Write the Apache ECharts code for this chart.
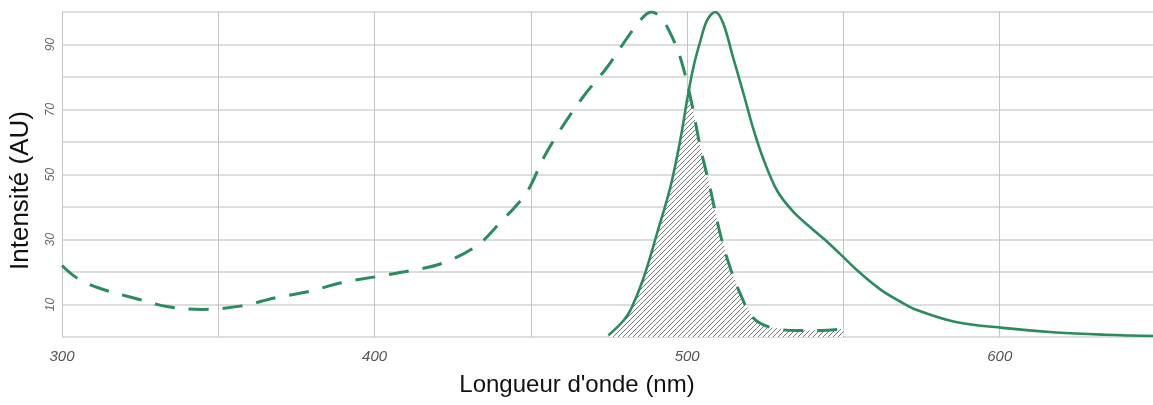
<!DOCTYPE html>
<html><head><meta charset="utf-8">
<script src="https://cdn.jsdelivr.net/npm/echarts@6/dist/echarts.min.js"></script>
<style>html,body{margin:0;padding:0;background:#fff;overflow:hidden;width:1153px;height:405px}#c{width:1160px;height:405px}</style>
</head><body><div id="c"></div>
<script>
// Excitation spectrum (dashed) : [wavelength nm, intensity AU]
const excitation = [[300,22],[305,18],[312,15],[323,12],[334,9.3],[345,8.5],[357,9.5],[368,12],[379,14],[389,16.6],[400,18.5],[411,20.3],[422,22.8],[433,28.3],[440,35],[447.6,43],[450.5,47.7],[454,55],[459.4,63.7],[466.8,74],[474.4,83],[480.8,92],[485,97.5],[488.5,100],[491.4,98.5],[494.6,93.5],[497.8,86],[501,74],[504.2,58.5],[507.3,46],[510.5,32],[513.7,21.5],[516.9,13.5],[521,6],[526.5,3],[535,2],[542,2],[550,2.5]];
// Emission spectrum (solid)
const emission = [[474.8,0.5],[479.6,5],[482,8.5],[486,18],[490.4,32],[494.6,46],[497.8,60.6],[500,73],[502,83],[504.2,91],[506.4,97.5],[509,100],[511.5,96.6],[514.7,86],[518,75],[521,64.6],[524.3,55],[528.8,45],[534,38.5],[540.3,33],[544,30],[549,25.5],[555,20],[562,14.5],[568,11],[573.5,8.3],[586,4.6],[601,2.8],[618,1.4],[634,0.7],[650,0.3]];
const xLabels = [300,400,500,600];
const yLabels = [10,30,50,70,90];

function interp(arr, x){
  if (x < arr[0][0] || x > arr[arr.length-1][0]) return null;
  for (let i=0;i<arr.length-1;i++){
    const a=arr[i], b=arr[i+1];
    if (x>=a[0] && x<=b[0]) return a[1] + (b[1]-a[1])*(x-a[0])/(b[0]-a[0]);
  }
  return arr[arr.length-1][1];
}
// overlap region = min of both spectra where both exist
const lo = Math.max(excitation[0][0], emission[0][0]);
const hi = Math.min(excitation[excitation.length-1][0], emission[emission.length-1][0]);
const xs = Array.from(new Set(excitation.map(p=>p[0]).concat(emission.map(p=>p[0])).filter(x=>x>=lo&&x<=hi))).sort((a,b)=>a-b);
const overlap = xs.map(x=>[x, Math.min(interp(excitation,x), interp(emission,x))]);
overlap.unshift([lo,0]); overlap.push([hi,0]);

const P = 5;
const pc = document.createElement('canvas'); pc.width=P; pc.height=P;
const g = pc.getContext('2d'); g.fillStyle='#ffffff'; g.fillRect(0,0,P,P); g.fillStyle='#777777';
for (let i=0;i<P;i++) g.fillRect(i,P-1-i,1,1);

const green = '#2b8a5e';
const chart = echarts.init(document.getElementById('c'), null, {renderer:'canvas', width:1160, height:405});
chart.setOption({
  animation:false,
  backgroundColor:'#ffffff',
  grid:{left:61, width:1095, top:12, bottom:68, containLabel:false},
  xAxis:{type:'value', min:300, max:650, interval:50,
    name:"Longueur d'onde (nm)", nameLocation:'middle', nameGap:36,
    nameTextStyle:{fontFamily:'Liberation Sans', fontSize:24, color:'#111', padding:[0,64,0,0]},
    axisLine:{show:false}, axisTick:{show:false},
    axisLabel:{margin:12, fontFamily:'Liberation Sans', fontSize:15, fontStyle:'italic', color:'#555',
      formatter:v=>xLabels.includes(v)?String(v):''},
    splitLine:{show:true, lineStyle:{color:'#c4c4c4', width:1}}},
  yAxis:{type:'value', min:0, max:100, interval:10,
    name:'Intensité (AU)', nameLocation:'middle', nameGap:28,
    nameTextStyle:{fontFamily:'Liberation Sans', fontSize:26, color:'#111', padding:[0,32,0,0]},
    axisLine:{show:false}, axisTick:{show:false},
    axisLabel:{margin:5, rotate:90, fontFamily:'Liberation Sans', fontSize:12, fontStyle:'italic', color:'#666',
      formatter:v=>yLabels.includes(v)?String(v):''},
    splitLine:{show:true, lineStyle:{color:'#d2d2d2', width:1.5}}},
  series:[
    {type:'line', data:overlap, symbol:'none', silent:true, z:1,
      lineStyle:{width:0}, areaStyle:{color:{image:pc, repeat:'repeat'}, opacity:1}},
    {type:'line', data:excitation, symbol:'none', smooth:0.35, z:3,
      lineStyle:{color:green, width:3, type:[20,14]}},
    {type:'line', data:emission, symbol:'none', smooth:0.35, z:4,
      lineStyle:{color:green, width:2.6}}
  ]
});
</script></body></html>
